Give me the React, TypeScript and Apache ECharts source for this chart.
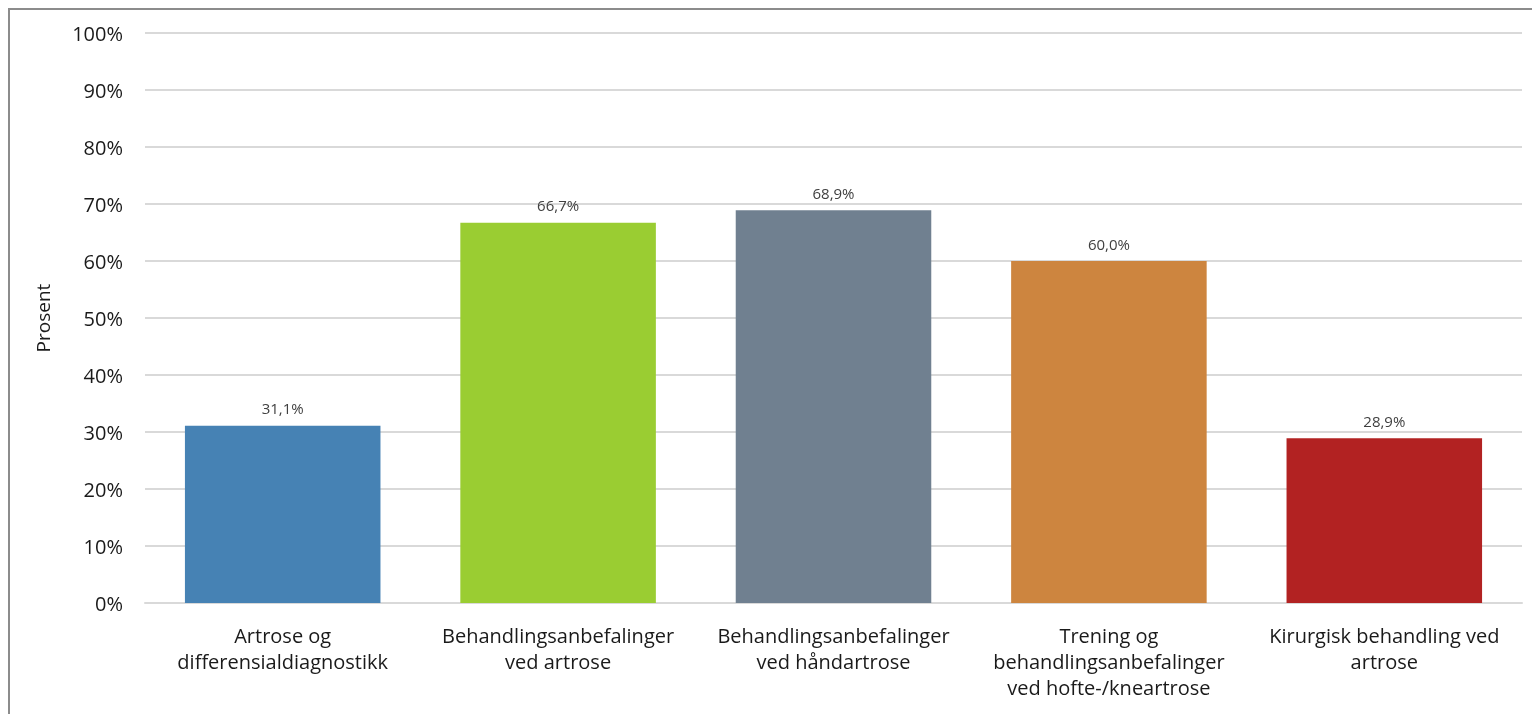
import React, { useEffect, useRef } from "react";
import * as echarts from "echarts";

const categories = [
  "Artrose og\ndifferensialdiagnostikk",
  "Behandlingsanbefalinger\nved artrose",
  "Behandlingsanbefalinger\nved håndartrose",
  "Trening og\nbehandlingsanbefalinger\nved hofte-/kneartrose",
  "Kirurgisk behandling ved\nartrose",
];
const values = [31.1, 66.7, 68.9, 60.0, 28.9];
const colors = ["#4682B4", "#9ACD32", "#708090", "#CD853F", "#B22222"];
const yAxisName = "Prosent";

const FONT = "'Open Sans', sans-serif";

export default function App() {
  const ref = useRef<HTMLDivElement>(null);
  useEffect(() => {
    if (!ref.current) return;
    const chart = echarts.init(ref.current, undefined, { renderer: "svg" });
    chart.setOption({
      animation: false,
      grid: { left: 145, right: 10, top: 33, bottom: 111 },
      xAxis: {
        type: "category",
        data: categories,
        axisLine: { show: true, lineStyle: { color: "#d9d9d9", width: 2 } },
        axisTick: { show: false },
        axisLabel: {
          interval: 0,
          color: "#1a1a1a",
          fontSize: 20,
          fontFamily: FONT,
          lineHeight: 26,
          margin: 19,
        },
      },
      yAxis: {
        type: "value",
        min: 0,
        max: 100,
        interval: 10,
        name: yAxisName,
        nameLocation: "middle",
        nameGap: 93,
        nameRotate: 90,
        nameTextStyle: { color: "#1a1a1a", fontSize: 19, fontFamily: FONT },
        axisLine: { show: false },
        axisTick: { show: false },
        splitLine: { lineStyle: { color: "#d9d9d9", width: 2 } },
        axisLabel: {
          formatter: "{value}%",
          color: "#1a1a1a",
          fontSize: 20,
          fontFamily: FONT,
          margin: 22,
        },
      },
      series: [
        {
          type: "bar",
          barCategoryGap: "29%",
          data: values.map((v, i) => ({ value: v, itemStyle: { color: colors[i] } })),
          label: {
            show: true,
            position: "top",
            distance: 10,
            color: "#404040",
            fontSize: 15,
            fontFamily: FONT,
            formatter: (p: any) => p.value.toFixed(1).replace(".", ",") + "%",
          },
        },
      ],
    });
    return () => chart.dispose();
  }, []);
  return (
    <>
      <div
        style={{
          position: "fixed",
          left: 8,
          top: 8,
          width: 1540,
          height: 720,
          borderLeft: "2px solid #8c8c8c",
          borderTop: "2px solid #8c8c8c",
          boxSizing: "border-box",
        }}
      />
      <div
        ref={ref}
        style={{ position: "fixed", left: 0, top: 0, width: 1532, height: 714 }}
      />
    </>
  );
}
